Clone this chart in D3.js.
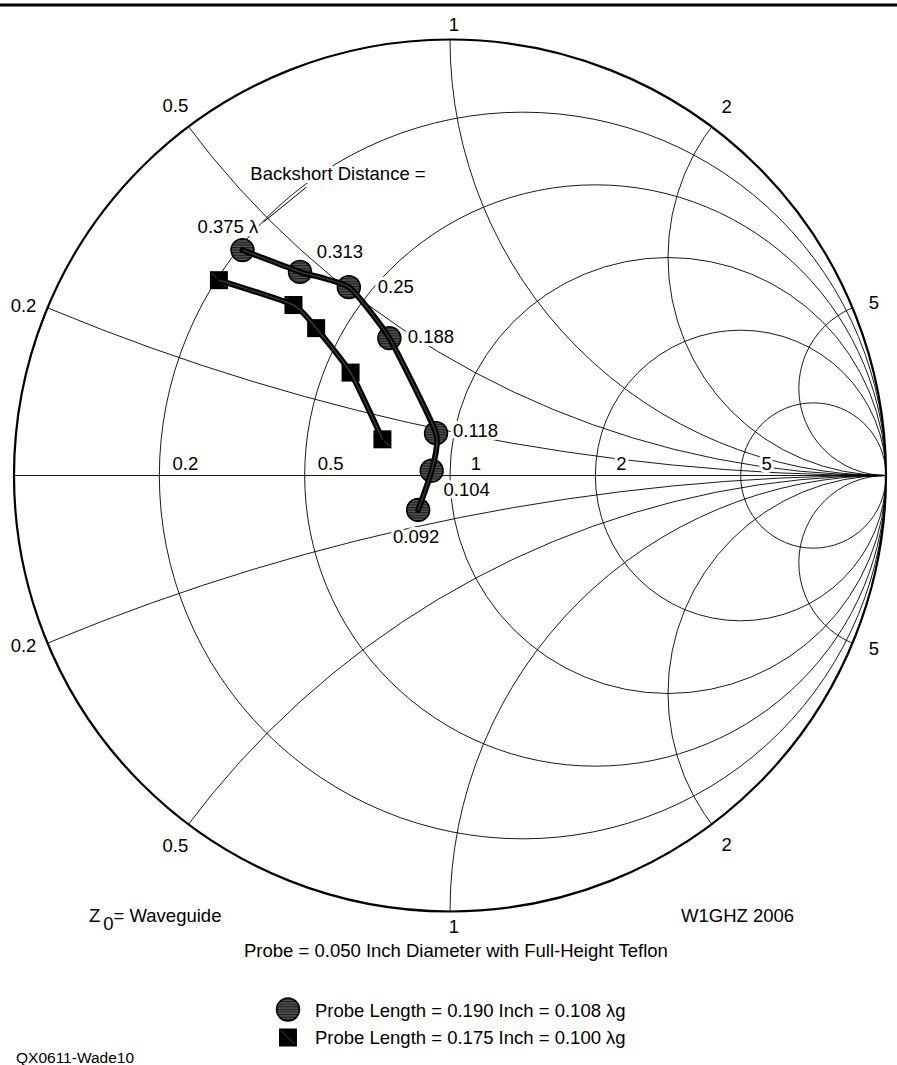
<!DOCTYPE html>
<html><head><meta charset="utf-8">
<script src="https://cdn.jsdelivr.net/npm/d3@7"></script>
<style>
body{margin:0;background:#fff;}
svg{display:block;}
text{font-family:"Liberation Sans",Arial,Helvetica,sans-serif;fill:#000;}
</style></head><body>
<svg id="c" width="897" height="1065"></svg>
<script>
// ---- grid values ----
const resistanceValues = [0.2, 0.5, 1, 2, 5];
const resistanceLabels = ["0.2", "0.5", "1", "2", "5"];
const reactanceValues = [0.2, 0.5, 1, 2, 5];
const reactanceLabels = ["0.2", "0.5", "1", "2", "5"];

// ---- measured reflection coefficients (real, imaginary) ----
// Probe Length = 0.190 Inch (circles), labelled by backshort distance
const backshortLabels = ["0.375 λ", "0.313", "0.25", "0.188", "0.118", "0.104", "0.092"];
const probe190Re = [-0.476, -0.344, -0.232, -0.139, -0.032, -0.042, -0.073];
const probe190Im = [0.517, 0.467, 0.432, 0.315, 0.097, 0.011, -0.079];
// Probe Length = 0.175 Inch (squares)
const probe175Re = [-0.530, -0.359, -0.307, -0.228, -0.155];
const probe175Im = [0.448, 0.391, 0.338, 0.236, 0.083];

const legendLabels = ["Probe Length = 0.190 Inch = 0.108 λg", "Probe Length = 0.175 Inch = 0.100 λg"];

// ---- layout ----
const W = 897, H = 1065;
const cx = 450, cy = 475.5, R = 436;
const FS = 18.5;
const svg = d3.select("#c");
const xS = d3.scaleLinear().domain([-1, 1]).range([cx - R, cx + R]);
const yS = d3.scaleLinear().domain([-1, 1]).range([cy + R, cy - R]);
const rad = v => xS(v) - xS(0);

const defs = svg.append("defs");
defs.append("clipPath").attr("id", "unit").append("circle")
  .attr("cx", xS(0)).attr("cy", yS(0)).attr("r", rad(1));
const pat = defs.append("pattern").attr("id", "hatch")
  .attr("patternUnits", "userSpaceOnUse").attr("width", 6).attr("height", 2.6);
pat.append("rect").attr("width", 6).attr("height", 2.6).attr("fill", "#555");
pat.append("rect").attr("width", 6).attr("height", 1.1).attr("fill", "#1a1a1a");

// top rule
svg.append("line").attr("x1", 0).attr("x2", W).attr("y1", 5).attr("y2", 5)
  .attr("stroke", "#000").attr("stroke-width", 3);

// grid
const grid = svg.append("g").attr("clip-path", "url(#unit)")
  .attr("fill", "none").attr("stroke", "#000").attr("stroke-width", 0.9);
resistanceValues.forEach(r => {
  grid.append("circle").attr("cx", xS(r / (1 + r))).attr("cy", yS(0)).attr("r", rad(1 / (1 + r)));
});
reactanceValues.forEach(x => {
  [1, -1].forEach(s => {
    grid.append("circle").attr("cx", xS(1)).attr("cy", yS(s / x)).attr("r", rad(1 / x));
  });
});
grid.append("line").attr("x1", xS(-1)).attr("x2", xS(1)).attr("y1", yS(0)).attr("y2", yS(0));

svg.append("circle").attr("cx", xS(0)).attr("cy", yS(0)).attr("r", rad(1))
  .attr("fill", "none").attr("stroke", "#000").attr("stroke-width", 2.2);

function halo(sel) {
  return sel.attr("stroke", "#fff").attr("stroke-width", 6).attr("stroke-linejoin", "round")
    .style("paint-order", "stroke");
}

// resistance labels along real axis
resistanceValues.forEach((r, i) => {
  halo(svg.append("text").attr("x", xS((r - 1) / (r + 1)) + 26).attr("y", yS(0) - 5.5)
    .attr("text-anchor", "middle").attr("font-size", FS).text(resistanceLabels[i]));
});

// reactance labels around the rim (offset of text centre from arc end point, upper half)
const rimLabelOffsets = [[-24, -2], [-13, -21], [4, -15], [15, -20], [21.5, -5.5]];
reactanceValues.forEach((x, i) => {
  [1, -1].forEach(s => {
    const gr = (x * x - 1) / (x * x + 1), gi = s * 2 * x / (x * x + 1);
    svg.append("text").attr("font-size", FS).attr("text-anchor", "middle")
      .attr("dominant-baseline", "central")
      .attr("x", xS(gr) + rimLabelOffsets[i][0])
      .attr("y", yS(gi) + s * rimLabelOffsets[i][1])
      .text(reactanceLabels[i]);
  });
});

// data labels
const labelOffsets = [[-14.5, -16.7], [40, -13.4], [47, 6], [41.5, 5], [39.5, 4], [35, 25], [-2, 32.7]];
backshortLabels.forEach((lab, i) => {
  halo(svg.append("text").attr("x", xS(probe190Re[i]) + labelOffsets[i][0])
    .attr("y", yS(probe190Im[i]) + labelOffsets[i][1])
    .attr("text-anchor", "middle").attr("font-size", FS).text(lab));
});
halo(svg.append("text").attr("x", 338).attr("y", 179.5).attr("text-anchor", "middle")
  .attr("font-size", FS).text("Backshort Distance ="));
svg.append("line")
  .attr("x1", xS(probe190Re[0]) + 21).attr("y1", yS(probe190Im[0]) - 28)
  .attr("x2", xS(probe190Re[0]) + 64).attr("y2", yS(probe190Im[0]) - 63)
  .attr("stroke", "#000").attr("stroke-width", 1);

// series
const d190 = probe190Re.map((v, i) => ({ re: v, im: probe190Im[i] }));
const d175 = probe175Re.map((v, i) => ({ re: v, im: probe175Im[i] }));
const lineGen = d3.line().x(d => xS(d.re)).y(d => yS(d.im)).curve(d3.curveCardinal.tension(0.5));
const SQ = 18;

function drawCircle(g, x, y) {
  g.append("circle").attr("cx", x).attr("cy", y).attr("r", 11.4)
    .attr("fill", "url(#hatch)").attr("stroke", "#000").attr("stroke-width", 1.6);
}
function drawSquare(g, x, y) {
  g.append("rect").attr("x", x - SQ / 2).attr("y", y - SQ / 2).attr("width", SQ).attr("height", SQ)
    .attr("fill", "#000");
  g.append("line").attr("x1", x - SQ / 2 + 2).attr("y1", y - SQ / 2 + 2)
    .attr("x2", x + SQ / 2 - 2).attr("y2", y + SQ / 2 - 2)
    .attr("stroke", "#555").attr("stroke-width", 0.8);
}
const marks = svg.append("g");
d175.forEach(d => drawSquare(marks, xS(d.re), yS(d.im)));
d190.forEach(d => drawCircle(marks, xS(d.re), yS(d.im)));
[d175, d190].forEach(ds => {
  svg.append("path").attr("d", lineGen(ds)).attr("fill", "none").attr("stroke", "#000")
    .attr("stroke-width", 5.8).attr("stroke-linejoin", "round").attr("stroke-linecap", "round");
  svg.append("path").attr("d", lineGen(ds)).attr("fill", "none").attr("stroke", "#3a3a3a")
    .attr("stroke-width", 1.4);
});

// bottom annotations
const z0 = svg.append("text").attr("x", 89).attr("y", 922).attr("font-size", FS);
z0.append("tspan").text("Z");
z0.append("tspan").attr("dx", 3).attr("dy", 7.5).text("0");
z0.append("tspan").attr("dy", -7.5).text("= Waveguide");
svg.append("text").attr("x", 681).attr("y", 922).attr("font-size", FS).text("W1GHZ 2006");
svg.append("text").attr("x", 244).attr("y", 957).attr("font-size", FS)
  .text("Probe = 0.050 Inch Diameter with Full-Height Teflon");

// legend
const lg = svg.append("g");
drawCircle(lg, 288, 1009.5);
drawSquare(lg, 288, 1037.5);
lg.append("text").attr("x", 315).attr("y", 1017).attr("font-size", FS).text(legendLabels[0]);
lg.append("text").attr("x", 315).attr("y", 1044).attr("font-size", FS).text(legendLabels[1]);

svg.append("text").attr("x", 16).attr("y", 1063).attr("font-size", 15.5).text("QX0611-Wade10");
</script>
</body></html>
